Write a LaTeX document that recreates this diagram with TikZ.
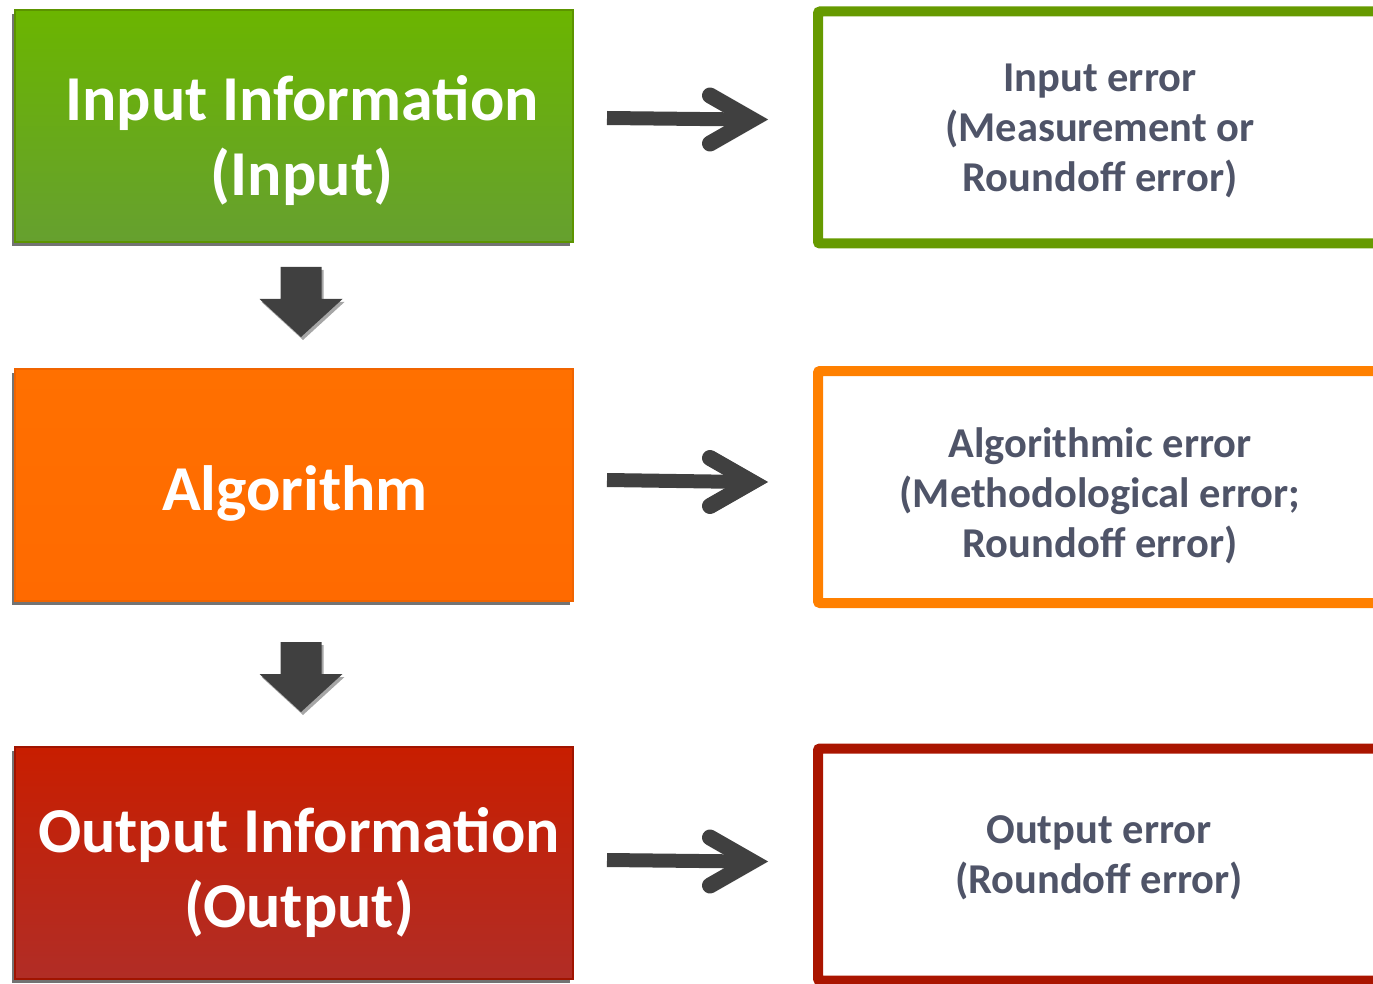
\documentclass[tikz,border=0pt]{standalone}
\usepackage{fontspec}
\setmainfont{Carlito}
\usetikzlibrary{shadows,calc}
\definecolor{gTop}{HTML}{6BB500}
\definecolor{gBot}{HTML}{66A02F}
\definecolor{gEdge}{HTML}{5C9400}
\definecolor{oTop}{HTML}{FF7000}
\definecolor{oBot}{HTML}{FF6A00}
\definecolor{oEdge}{HTML}{F06400}
\definecolor{rTop}{HTML}{C81E00}
\definecolor{rBot}{HTML}{B12D26}
\definecolor{rEdge}{HTML}{A01400}
\definecolor{gLine}{HTML}{669A00}
\definecolor{oLine}{HTML}{FF8000}
\definecolor{rLine}{HTML}{AA1500}
\definecolor{errText}{HTML}{4F5468}
\definecolor{arrowGrey}{HTML}{404040}
\tikzset{
  stagebox/.style={rectangle, minimum width=558pt, minimum height=232pt, outer sep=0pt, line width=2pt,
    drop shadow={shadow xshift=-3pt, shadow yshift=-4pt, opacity=0.55, fill=black}},
  errbox/.style={rectangle, draw, line width=10pt, fill=white, minimum width=564pt, minimum height=232pt,
    outer sep=0pt, rounded corners=2pt},
  bigtxt/.style={text=white, align=center, font=\fontsize{64}{75}\selectfont\bfseries},
  errtxt/.style={text=errText, align=center, font=\fontsize{42.5}{50}\selectfont\bfseries},
  rshaft/.style={draw=arrowGrey, line width=14pt, line cap=butt},
  rhead/.style={draw=arrowGrey, line width=16pt, line cap=round, line join=miter},
  dshape/.style={fill=arrowGrey, drop shadow={shadow xshift=2pt, shadow yshift=-3pt, opacity=0.35, fill=black}}
}
\begin{document}
\begin{tikzpicture}[x=1pt,y=-1pt]
\useasboundingbox (0,0) rectangle (1373,984);
% left stage boxes
\node[stagebox, draw=gEdge, top color=gTop, bottom color=gBot] (inbox) at (294,126) {};
\node[stagebox, draw=oEdge, top color=oTop, bottom color=oBot] (algbox) at (294,485) {};
\node[stagebox, draw=rEdge, top color=rTop, bottom color=rBot] (outbox) at (294,863) {};
\node[bigtxt] (intxt) at (302,141) {Input Information\\(Input)};
\node[bigtxt] (algtxt) at (295,493) {Algorithm};
\node[bigtxt] (outtxt) at (299,873) {Output Information\\(Output)};
% right error boxes
\node[errbox, draw=gLine] (inerr) at (1100,127.5) {};
\node[errbox, draw=oLine] (algerr) at (1100,487) {};
\node[errbox, draw=rLine] (outerr) at (1100,864.5) {};
\node[errtxt] (inerrtxt) at (1100,131) {Input error\\(Measurement or\\Roundoff error)};
\node[errtxt] (algerrtxt) at (1100,496) {Algorithmic error\\(Methodological error;\\Roundoff error)};
\node[errtxt] (outerrtxt) at (1099,858) {Output error\\(Roundoff error)};
% right arrows
\foreach \a/\b/\dy in {inbox/inerr/8, algbox/algerr/5, outbox/outerr/3}{
  \coordinate (s) at ([xshift=34pt,yshift=\dy pt]\a.east);
  \coordinate (t) at ([xshift=-66pt,yshift=\dy pt]\b.west);
  \draw[rshaft] (s) -- ([xshift=-6pt]t);
  \draw[rhead] ($(t)+(-42,-24)$) -- (t) -- ($(t)+(-42,24)$);
}
% down arrows
\coordinate (d1) at ([xshift=7pt,yshift=-25pt]inbox.south);
\coordinate (d2) at ([xshift=7pt,yshift=-41pt]algbox.south);
\foreach \d in {d1,d2}{
  \fill[dshape] (\d) ++(-20.5,0) -- ++(41,0) -- ++(0,32) -- ++(21,0) -- ++(-41.5,38) -- ++(-41.5,-38) -- ++(21,0) -- cycle;
}
\end{tikzpicture}
\end{document}
